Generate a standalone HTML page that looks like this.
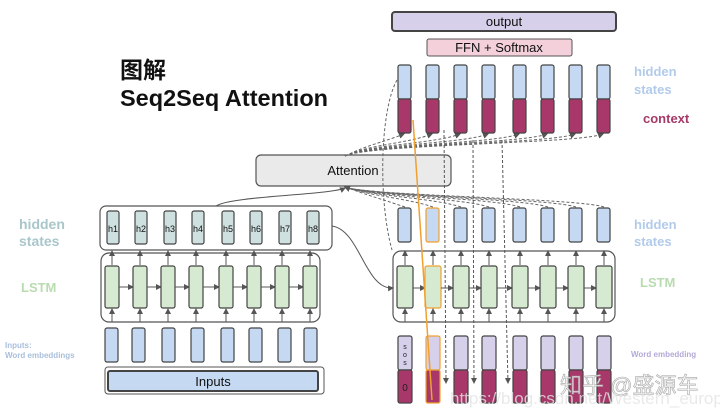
<!DOCTYPE html>
<html><head><meta charset="utf-8"><style>
html,body{margin:0;padding:0;background:#fff;width:720px;height:411px;overflow:hidden}
svg{display:block}
text{font-family:"Liberation Sans","Noto Sans CJK SC",sans-serif}
</style></head><body>
<svg id="s" width="720" height="411" viewBox="0 0 720 411" xmlns="http://www.w3.org/2000/svg">
<defs>
<marker id="a" markerWidth="6" markerHeight="6" refX="5" refY="3" orient="auto"><path d="M0,0 L6,3 L0,6z" fill="#555"/></marker>
</defs>
<text x="120" y="78" font-size="23" font-weight="bold" fill="#111">图解</text>
<text x="120" y="106" font-size="23.5" font-weight="bold" fill="#111">Seq2Seq Attention</text>

<text x="19" y="229" font-size="14" font-weight="bold" fill="#a9c6ca">hidden</text>
<text x="19" y="246" font-size="14" font-weight="bold" fill="#a9c6ca">states</text>
<text x="21" y="292" font-size="13" font-weight="bold" fill="#b9dbb0">LSTM</text>
<text x="5" y="348" font-size="8" font-weight="bold" fill="#a9bfdc">Inputs:</text>
<text x="5" y="358" font-size="8" font-weight="bold" fill="#a9bfdc">Word embeddings</text>

<text x="634" y="76" font-size="13" font-weight="bold" fill="#b2cbea">hidden</text>
<text x="634" y="94" font-size="13" font-weight="bold" fill="#b2cbea">states</text>
<text x="643" y="123" font-size="13" font-weight="bold" fill="#a43a68">context</text>
<text x="634" y="229" font-size="13" font-weight="bold" fill="#b2cbea">hidden</text>
<text x="634" y="246" font-size="13" font-weight="bold" fill="#b2cbea">states</text>
<text x="640" y="287" font-size="13" font-weight="bold" fill="#b9dbb0">LSTM</text>
<text x="631" y="357" font-size="8" font-weight="bold" fill="#b3a9d6">Word embedding</text>

<rect x="392" y="12" width="224" height="19" rx="3" fill="#d6d0ea" stroke="#444" stroke-width="2"/>
<text x="504" y="26" font-size="13" text-anchor="middle" fill="#111">output</text>
<rect x="427" y="39" width="145" height="17" rx="2" fill="#f3d0da" stroke="#555" stroke-width="1"/>
<text x="499" y="52" font-size="13" text-anchor="middle" fill="#111">FFN + Softmax</text>

<rect x="256" y="155" width="195" height="31" rx="5" fill="#eaeaea" stroke="#555" stroke-width="1.2"/>
<text x="353" y="175" font-size="13" text-anchor="middle" fill="#111">Attention</text>

<rect x="100" y="206" width="232" height="44" rx="6" fill="#fff" stroke="#555" stroke-width="1.2"/>
<rect x="101" y="253" width="219" height="69" rx="8" fill="#fff" stroke="#555" stroke-width="1.2"/>
<rect x="105" y="367" width="219" height="27" rx="3" fill="#fff" stroke="#555" stroke-width="1"/>
<rect x="108" y="371" width="210" height="20" rx="2" fill="#c5daf2" stroke="#444" stroke-width="2"/>
<text x="213" y="386" font-size="13" text-anchor="middle" fill="#111">Inputs</text>

<rect x="393" y="251" width="222" height="71" rx="8" fill="#fff" stroke="#555" stroke-width="1.2"/>
<g id="g"></g>
<path d="M413,120 L432,400" stroke="#f0a030" stroke-width="1.5" fill="none"/>
<path d="M332,226 C360,230 365,290 393,288" stroke="#555" fill="none" marker-end="url(#a)"/>
<path d="M216,206 C230,196 330,195 345,188" stroke="#555" fill="none" marker-end="url(#a)"/>
<text x="560" y="393" font-size="22" fill="#f4f4f4" stroke="#999" stroke-width="0.6" opacity="0.85">知乎 @盛源车</text>
<text x="450" y="404" font-size="17" fill="#e4e4e4" opacity="0.8">https://blog.csdn.net/Western_europe</text>
</svg>
<script>
var g=document.getElementById('g'),h='';
function r(x,y,w,hh,f,s,sw,rx){h+='<rect x="'+x+'" y="'+y+'" width="'+w+'" height="'+hh+'" rx="'+(rx||2)+'" fill="'+f+'" stroke="'+(s||'#444')+'" stroke-width="'+(sw||1.2)+'"/>';}
function l(x1,y1,x2,y2,d,m){h+='<path d="M'+x1+','+y1+' L'+x2+','+y2+'" stroke="#555" stroke-width="1" fill="none"'+(d?' stroke-dasharray="3,2"':'')+(m?' marker-end="url(#a)"':'')+'/>';}
var hx=[107,135,164,192,222,250,279,307],lx=[105,133,161,189,219,247,275,303],ex=[105,132,162,191,221,249,278,304];
for(var i=0;i<8;i++){
 r(hx[i],211,12,33,'#cfe0e0');
 h+='<text x="'+(hx[i]+6)+'" y="232" font-size="9" text-anchor="middle" fill="#111">h'+(i+1)+'</text>';
 r(lx[i],266,14,42,'#d5ead0');
 l(lx[i]+7,322,lx[i]+7,309,0,1);l(lx[i]+7,265,lx[i]+7,251,0,1);
 if(i<7)l(lx[i]+14,287,lx[i+1],287,0,1);
 r(ex[i],328,13,34,'#c5daf2');
}
var rx=[398,426,454,482,513,541,569,597];
for(var i=0;i<8;i++){
 var x=rx[i];
 h+='<path d="M345,156 C370,144 '+(x-20)+',144 '+(x+6)+',134" stroke="#666" stroke-dasharray="3,2" fill="none" marker-end="url(#a)"/>';
 h+='<path d="M'+(x+7)+',207 C'+(x-20)+',198 370,196 345,187" stroke="#666" stroke-dasharray="3,2" fill="none" marker-end="url(#a)"/>';
}
for(var i=0;i<8;i++){
 var x=rx[i],o=(i==1);
 r(x,65,13,34,'#c5daf2');r(x,99,13,34,'#a8386a');
 r(x,208,13,34,'#c5daf2',o?'#f0a030':'#444');
 r(x-1,266,16,42,'#d5ead0',o?'#f0a030':'#444');
 l(x+7,322,x+7,309,0,1);l(x+7,265,x+7,251,0,1);
 if(i<7)l(x+15,288,rx[i+1]-1,288,0,1);
 r(x,336,14,34,'#d6d0ea',o?'#f0a030':'#444',1.2,2);r(x,370,14,33,'#a8386a',o?'#f0a030':'#444',1.2,2);
}
h+='<text x="405" y="349" font-size="7" text-anchor="middle" fill="#222">s</text><text x="405" y="357" font-size="7" text-anchor="middle" fill="#222">o</text><text x="405" y="365" font-size="7" text-anchor="middle" fill="#222">s</text><text x="405" y="391" font-size="10" text-anchor="middle" fill="#222">0</text>';
l(444,130,446,383,1,1);l(473,140,474,383,1,1);l(502,140,508,383,1,1);
h+='<path d="M397,80 C380,110 378,200 392,250" stroke="#666" stroke-dasharray="3,2" fill="none"/>';
g.innerHTML=h;
</script>
</body></html>
